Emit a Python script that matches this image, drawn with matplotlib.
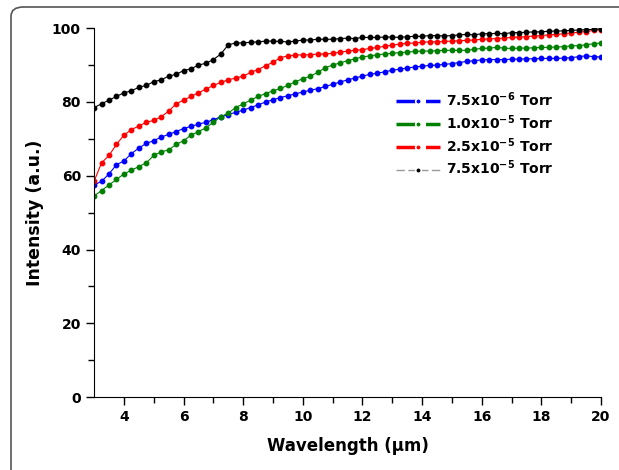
import numpy as np
import matplotlib
matplotlib.use('Agg')
import matplotlib.pyplot as plt
from matplotlib.lines import Line2D
from matplotlib.patches import FancyBboxPatch

plt.rcParams['font.family'] = ['DejaVu Sans']
plt.rcParams['font.weight'] = 'bold'
plt.rcParams['mathtext.default'] = 'bf'

# wavelength grid (um), 3.0 .. 20.0 every 0.25
wavelength = np.round(np.arange(3.0, 20.001, 0.25), 2)

blue_76 = [57.5, 58.5, 60.5, 63, 64, 66, 67.5, 68.8, 69.5, 70.5, 71.2, 72, 72.8, 73.4,
           74, 74.5, 75.2, 76, 76.6, 77.2, 77.8, 78.5, 79.2, 80, 80.6, 81.2, 81.7, 82.2,
           82.7, 83.2, 83.6, 84.2, 84.8, 85.4, 86, 86.5, 87, 87.5, 87.8, 88.2, 88.6, 88.9,
           89.2, 89.5, 89.7, 89.9, 90, 90.2, 90.4, 90.7, 91, 91.2, 91.4, 91.5, 91.5, 91.5,
           91.6, 91.6, 91.7, 91.7, 91.8, 91.8, 91.8, 91.9, 92, 92.3, 92.5, 92.3, 92.2]

green_105 = [54.5, 56, 57.5, 59, 60.5, 61.5, 62.5, 63.5, 65.5, 66.5, 67, 68.5, 69.5, 71,
             72, 73, 74.5, 76, 77, 78.5, 79.5, 80.5, 81.5, 82.3, 83, 83.7, 84.5, 85.5,
             86.3, 87, 88, 89.3, 90, 90.6, 91.2, 91.7, 92.2, 92.5, 92.8, 93, 93.2, 93.4,
             93.5, 93.7, 93.8, 93.8, 93.9, 94, 94, 94, 94, 94.3, 94.5, 94.6, 94.8, 94.6,
             94.5, 94.6, 94.6, 94.7, 94.8, 94.8, 94.9, 95, 95.2, 95.3, 95.5, 95.8, 96]

red_255 = [58.5, 63.5, 65.5, 68.5, 71, 72.5, 73.5, 74.5, 75, 76, 77.5, 79.5, 80.5, 81.5,
           82.5, 83.5, 84.5, 85.3, 86, 86.5, 87, 88, 88.8, 89.8, 90.8, 92, 92.5, 92.7,
           92.8, 92.8, 93, 93, 93.2, 93.5, 93.8, 94, 94.2, 94.5, 94.8, 95.1, 95.4, 95.7,
           95.9, 96, 96.2, 96.3, 96.3, 96.4, 96.5, 96.6, 96.7, 96.8, 97, 97.1, 97.2, 97.3,
           97.5, 97.6, 97.7, 97.9, 98, 98.2, 98.3, 98.5, 98.7, 98.9, 99.1, 99.4, 99.6]

black_755 = [78.5, 79.5, 80.5, 81.5, 82.5, 83, 84, 84.5, 85.5, 86, 87, 87.5, 88.5, 89,
             90, 90.5, 91.5, 93, 95.5, 96, 96, 96.2, 96.3, 96.5, 96.5, 96.4, 96.3, 96.5,
             96.8, 96.8, 97, 97, 97, 97.2, 97.3, 97.2, 97.5, 97.5, 97.5, 97.6, 97.6, 97.5,
             97.7, 97.8, 97.8, 98, 98, 97.9, 98, 98.2, 98.3, 98.2, 98.5, 98.5, 98.6, 98.5,
             98.8, 98.8, 98.9, 99, 99, 99.2, 99.2, 99.3, 99.4, 99.5, 99.6, 99.7, 99.8]

labels = [r'7.5x10$^{-6}$ Torr', r'1.0x10$^{-5}$ Torr',
          r'2.5x10$^{-5}$ Torr', r'7.5x10$^{-5}$ Torr']
colors = ['#0000ff', '#008000', '#ff0000', '#000000']
series = [blue_76, green_105, red_255, black_755]

fig = plt.figure(figsize=(6.19, 4.70), dpi=100)
ax = fig.add_axes([0.152, 0.155, 0.819, 0.785])

for y, c in zip(series, colors):
    ax.plot(wavelength, y, '-', color=c, lw=0.8, marker='o', ms=3.2, mec=c)

ax.set_xlim(3, 20)
ax.set_ylim(0, 100)
ax.set_xticks([4, 6, 8, 10, 12, 14, 16, 18, 20])
ax.set_xticks(np.arange(5, 20, 2), minor=True)
ax.set_yticks([0, 20, 40, 60, 80, 100])
ax.set_yticks([10, 30, 50, 70, 90], minor=True)
ax.tick_params(which='major', direction='out', length=6, width=1, labelsize=10)
ax.tick_params(which='minor', direction='out', length=4, width=1)
for lab in ax.get_xticklabels() + ax.get_yticklabels():
    lab.set_fontweight('bold')
ax.spines['top'].set_visible(False)
ax.spines['right'].set_visible(False)

ax.set_xlabel('Wavelength (\u03bcm)', fontsize=12, fontweight='bold', labelpad=9)
ax.set_ylabel('Intensity (a.u.)', fontsize=12.5, fontweight='bold', labelpad=6)

handles = []
for c in colors:
    lc = '#999999' if c == '#000000' else c
    lw = 1.0 if c == '#000000' else 2.5
    handles.append(Line2D([0], [0], color=lc, lw=lw, dashes=(6, 2.5),
                          marker='o', ms=4, mfc=c, mec='white', mew=1.2))
leg = ax.legend(handles, labels, loc='upper left', bbox_to_anchor=(0.57, 0.865),
                frameon=False, fontsize=10, handlelength=3.2, handletextpad=0.4,
                labelspacing=0.3, numpoints=1)
for t in leg.get_texts():
    t.set_fontweight('bold')

frame = FancyBboxPatch((11 / 619, -0.2), 1.2, 1.2 - 7 / 470,
                       boxstyle='round,pad=0,rounding_size=0.02',
                       transform=fig.transFigure, fill=False,
                       edgecolor='#555555', lw=1.2, clip_on=False)
fig.patches.append(frame)

fig.savefig('out.png', dpi=100)
